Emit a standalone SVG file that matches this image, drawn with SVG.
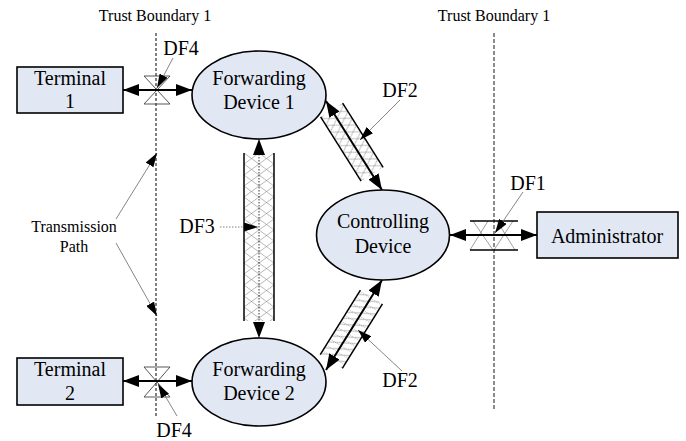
<svg xmlns="http://www.w3.org/2000/svg" width="686" height="441" viewBox="0 0 686 441">
<style>
text{font-family:"Liberation Serif","Times New Roman",serif;fill:#000;text-anchor:middle}
.big{font-size:20px}
.small{font-size:16px}
.node{fill:#e1e8f4;stroke:#000;stroke-width:1.6}
.flow{stroke:#000;stroke-width:2;fill:none}
.lead{stroke:#666;stroke-width:0.8;fill:none}
.edge{stroke:#000;stroke-width:1.5}
.hg{fill:none;stroke:#444;stroke-width:0.9}
</style>
<defs>
  <!-- filled arrowhead for data flows -->
  <marker id="ah" viewBox="0 0 16 12" refX="16" refY="6" markerWidth="16" markerHeight="12" markerUnits="userSpaceOnUse" orient="auto-start-reverse">
    <path d="M0,0L16,6L0,12Z" fill="#000"/>
  </marker>
  <!-- slimmer arrowhead for label leaders -->
  <marker id="lh" viewBox="0 0 14 9" refX="14" refY="4.5" markerWidth="14" markerHeight="9" markerUnits="userSpaceOnUse" orient="auto">
    <path d="M0,0L14,4.5L0,9Z" fill="#000"/>
  </marker>
  <!-- open cross hatching for the vertical channel -->
  <pattern id="xh" width="15" height="11" patternUnits="userSpaceOnUse" x="244" y="153">
    <path d="M0,0L15,11M15,0L0,11" stroke="#888" stroke-width="0.6"/>
  </pattern>
  <!-- cross hatching for the upper diagonal channel (one cell per lane) -->
  <pattern id="xh2" width="8" height="13" patternUnits="userSpaceOnUse">
    <path d="M0,0L8,13M8,0L0,13" stroke="#888" stroke-width="0.6"/>
  </pattern>
  <!-- single hatching with dotted rules for the lower diagonal channel -->
  <pattern id="dh" width="7" height="13" patternUnits="userSpaceOnUse">
    <path d="M0,0L7,13" stroke="#777" stroke-width="0.6"/>
    <path d="M3.5,0V13" stroke="#999" stroke-width="0.6" stroke-dasharray="1 1"/>
  </pattern>
</defs>

<!-- trust boundaries -->
<g id="boundaries">
  <line x1="156" y1="33" x2="156" y2="416" stroke="#000" stroke-width="1" stroke-dasharray="3 2"/>
  <line x1="494" y1="33" x2="494" y2="410" stroke="#666" stroke-width="1.5" stroke-dasharray="4 2"/>
  <text class="small" x="155" y="21">Trust Boundary 1</text>
  <text class="small" x="494" y="21">Trust Boundary 1</text>
</g>

<!-- data flow channels -->
<g id="channels">
  <path class="hg" d="M144,76H170L144,104H170Z"/>
  <path class="hg" d="M144,367H170L144,397H170Z"/>
  <g transform="translate(354,145.5) rotate(57.8)">
    <rect x="-42" y="-13" width="76" height="26" fill="url(#xh2)"/>
    <line class="edge" x1="-42" y1="-13" x2="34" y2="-13"/>
    <line class="edge" x1="-42" y1="13" x2="34" y2="13"/>
  </g>
  <g transform="translate(354,325) rotate(-58.1)">
    <rect x="-43" y="-13" width="76" height="26" fill="url(#dh)"/>
    <line class="edge" x1="-43" y1="-13" x2="33" y2="-13"/>
    <line class="edge" x1="-43" y1="13" x2="33" y2="13"/>
  </g>
  <rect x="244" y="153" width="30" height="168" fill="url(#xh)"/>
  <line class="edge" x1="244" y1="153" x2="244" y2="321"/>
  <line class="edge" x1="274" y1="153" x2="274" y2="321"/>
  <g stroke="#777" stroke-width="0.7">
    <path d="M473,221L493,250M488,221L470,250M497,221L515,250M513,221L494,250"/>
  </g>
  <line class="edge" x1="470" y1="221" x2="518" y2="221"/>
  <line class="edge" x1="470" y1="250" x2="518" y2="250"/>
</g>

<!-- connectors -->
<g id="connectors">
  <line class="flow" x1="123" y1="90" x2="192" y2="90" marker-start="url(#ah)" marker-end="url(#ah)"/>
  <line class="flow" x1="123" y1="381" x2="192" y2="381" marker-start="url(#ah)" marker-end="url(#ah)"/>
  <line class="flow" stroke-width="1.6" x1="326" y1="101" x2="382" y2="190" marker-start="url(#ah)" marker-end="url(#ah)"/>
  <line class="flow" stroke-width="1.6" x1="326" y1="370" x2="382" y2="280" marker-start="url(#ah)" marker-end="url(#ah)"/>
  <line x1="259" y1="139" x2="259" y2="338" stroke="#333" stroke-width="1" stroke-dasharray="1.5 1.5" marker-start="url(#ah)" marker-end="url(#ah)"/>
  <line class="flow" x1="450" y1="235" x2="537" y2="235" marker-start="url(#ah)" marker-end="url(#ah)"/>
</g>

<!-- labels and leaders -->
<g id="labels">
  <text class="big" x="181" y="55">DF4</text>
  <line class="lead" x1="173" y1="58" x2="157" y2="88" marker-end="url(#lh)"/>
  <text class="big" x="174" y="437">DF4</text>
  <line class="lead" x1="177" y1="416" x2="158" y2="384" marker-end="url(#lh)"/>
  <text class="big" x="400" y="97">DF2</text>
  <line class="lead" x1="400" y1="100" x2="360" y2="140" marker-end="url(#lh)"/>
  <text class="big" x="400" y="387">DF2</text>
  <line class="lead" x1="402" y1="371" x2="358" y2="330" marker-end="url(#lh)"/>
  <text class="big" x="197" y="233">DF3</text>
  <line class="lead" x1="220" y1="227" x2="258" y2="227" stroke-dasharray="1.5 1.5" marker-end="url(#lh)"/>
  <text class="big" x="528" y="190">DF1</text>
  <line class="lead" x1="523" y1="192" x2="495" y2="233" marker-end="url(#lh)"/>
  <text class="small" x="74" y="232">Transmission</text>
  <text class="small" x="74" y="252">Path</text>
  <line class="lead" x1="116" y1="219" x2="157" y2="153" marker-end="url(#lh)"/>
  <line class="lead" x1="116" y1="243" x2="157" y2="316" marker-end="url(#lh)"/>
</g>

<!-- nodes -->
<g id="terminal1">
  <rect class="node" x="17" y="67" width="106" height="46"/>
  <text class="big" x="70" y="85">Terminal</text>
  <text class="big" x="70" y="108">1</text>
</g>
<g id="terminal2">
  <rect class="node" x="17" y="358" width="106" height="47"/>
  <text class="big" x="70" y="376">Terminal</text>
  <text class="big" x="70" y="400">2</text>
</g>
<g id="forwarding1">
  <ellipse class="node" cx="259" cy="95" rx="67" ry="44"/>
  <text class="big" x="259" y="85">Forwarding</text>
  <text class="big" x="259" y="109">Device 1</text>
</g>
<g id="forwarding2">
  <ellipse class="node" cx="259" cy="382" rx="67" ry="44"/>
  <text class="big" x="259" y="376">Forwarding</text>
  <text class="big" x="259" y="400">Device 2</text>
</g>
<g id="controlling">
  <ellipse class="node" cx="383" cy="235" rx="66.5" ry="45"/>
  <text class="big" x="383" y="228">Controlling</text>
  <text class="big" x="383" y="253">Device</text>
</g>
<g id="administrator">
  <rect class="node" x="537" y="212" width="141" height="46"/>
  <text class="big" x="607" y="243">Administrator</text>
</g>
</svg>
